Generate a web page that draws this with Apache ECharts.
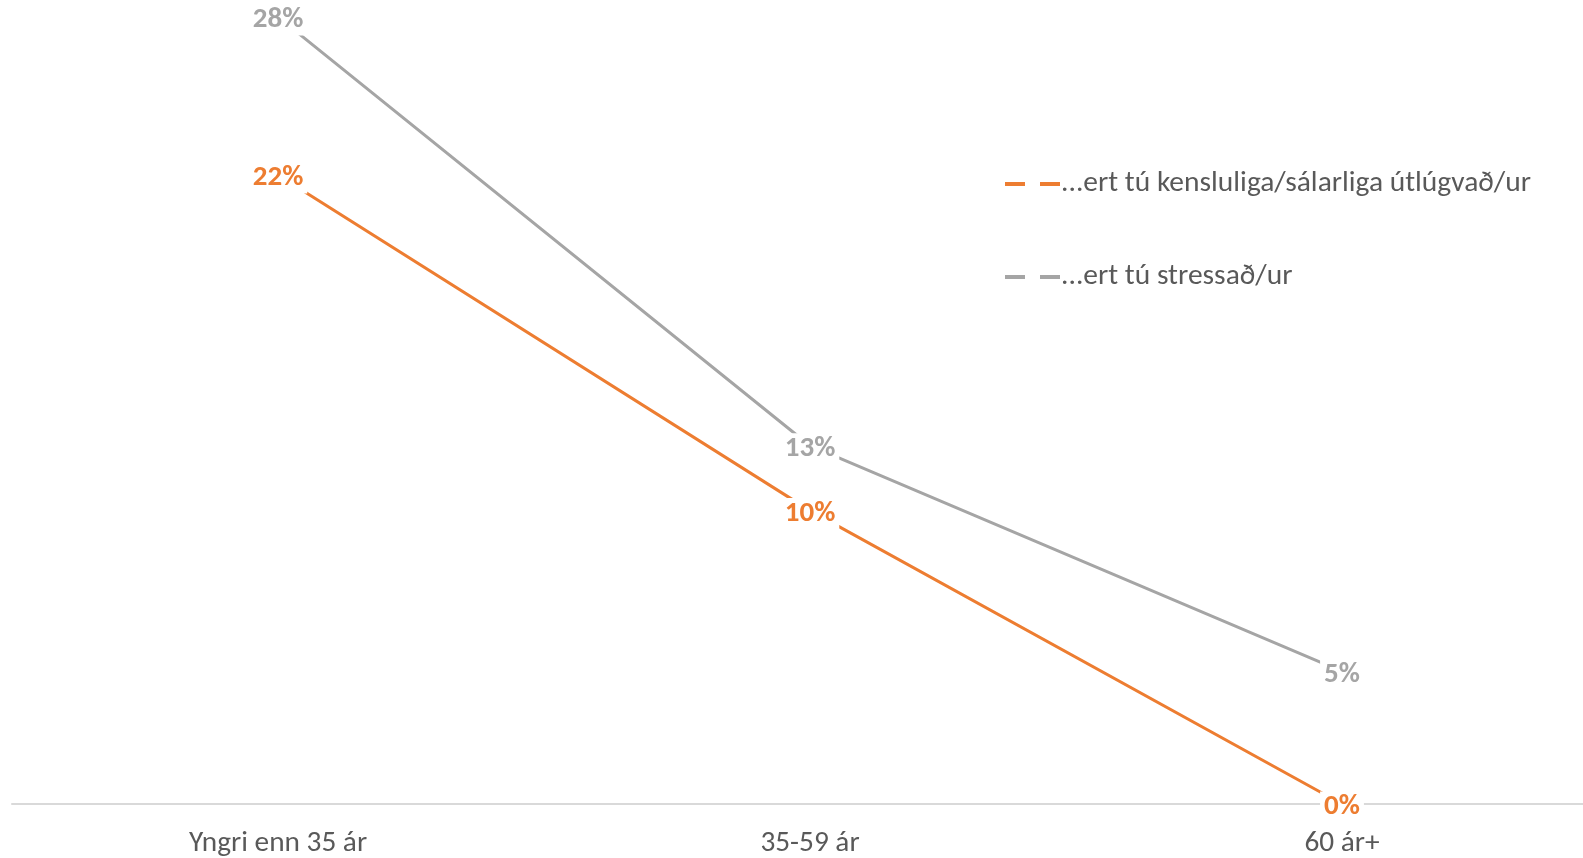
<!DOCTYPE html>
<html>
<head>
<meta charset="utf-8">
<script src="https://cdn.jsdelivr.net/npm/echarts@6/dist/echarts.min.js"></script>
<style>
html,body{margin:0;padding:0;background:#fff;overflow:hidden;}
#chart{width:1608px;height:858px;}
</style>
</head>
<body>
<div id="chart"></div>
<script>
const categories = ['Yngri enn 35 ár', '35-59 ár', '60 ár+'];
const seriesNames = ['...ert tú kensluliga/sálarliga útlúgvað/ur', '...ert tú stressað/ur'];
const utlugvad = [22.3, 10.4, 0];
const stressad = [27.9, 12.7, 4.7];
const colors = ['#ED7D31', '#A5A5A5'];

const chart = echarts.init(document.getElementById('chart'));
const FONT = 'Carlito, Lato, "Open Sans", sans-serif';

function lineSeries(name, data, color) {
  return {
    name: name,
    type: 'line',
    data: data,
    showSymbol: true,
    symbol: 'circle',
    symbolSize: 1,
    itemStyle: { color: color },
    color: color,
    lineStyle: { color: color, width: 3 },
    label: {
      show: true,
      position: 'inside',
      offset: [0, 3],
      color: color,
      fontFamily: FONT,
      fontWeight: 'bold',
      fontSize: 29,
      backgroundColor: '#fff',
      padding: [1, 4],
      formatter: p => Math.round(p.value) + '%'
    },
    emphasis: { disabled: true },
    animation: false
  };
}

chart.setOption({
  animation: false,
  grid: { left: 12, right: 0, top: 0, bottom: 54, containLabel: false },
  legend: {
    orient: 'vertical',
    left: 1000,
    top: 162,
    itemGap: 59,
    itemWidth: 55,
    itemHeight: 4,
    icon: 'path://M0,0H20V4H0Z M35,0H55V4H35Z',
    textStyle: { color: '#595959', fontFamily: FONT, fontSize: 29.5, lineHeight: 34, padding: [0,0,0,-4] },
    data: seriesNames
  },
  xAxis: {
    type: 'category',
    data: categories,
    boundaryGap: true,
    axisLine: { lineStyle: { color: '#D9D9D9', width: 2 } },
    axisTick: { show: false },
    axisLabel: { color: '#595959', fontFamily: FONT, fontSize: 29.3, margin: 25 },
    splitLine: { show: false }
  },
  yAxis: {
    type: 'value',
    min: 0,
    max: 28.5,
    show: false,
    splitLine: { show: false }
  },
  series: [
    lineSeries(seriesNames[0], utlugvad, colors[0]),
    lineSeries(seriesNames[1], stressad, colors[1])
  ]
});
</script>
</body>
</html>
